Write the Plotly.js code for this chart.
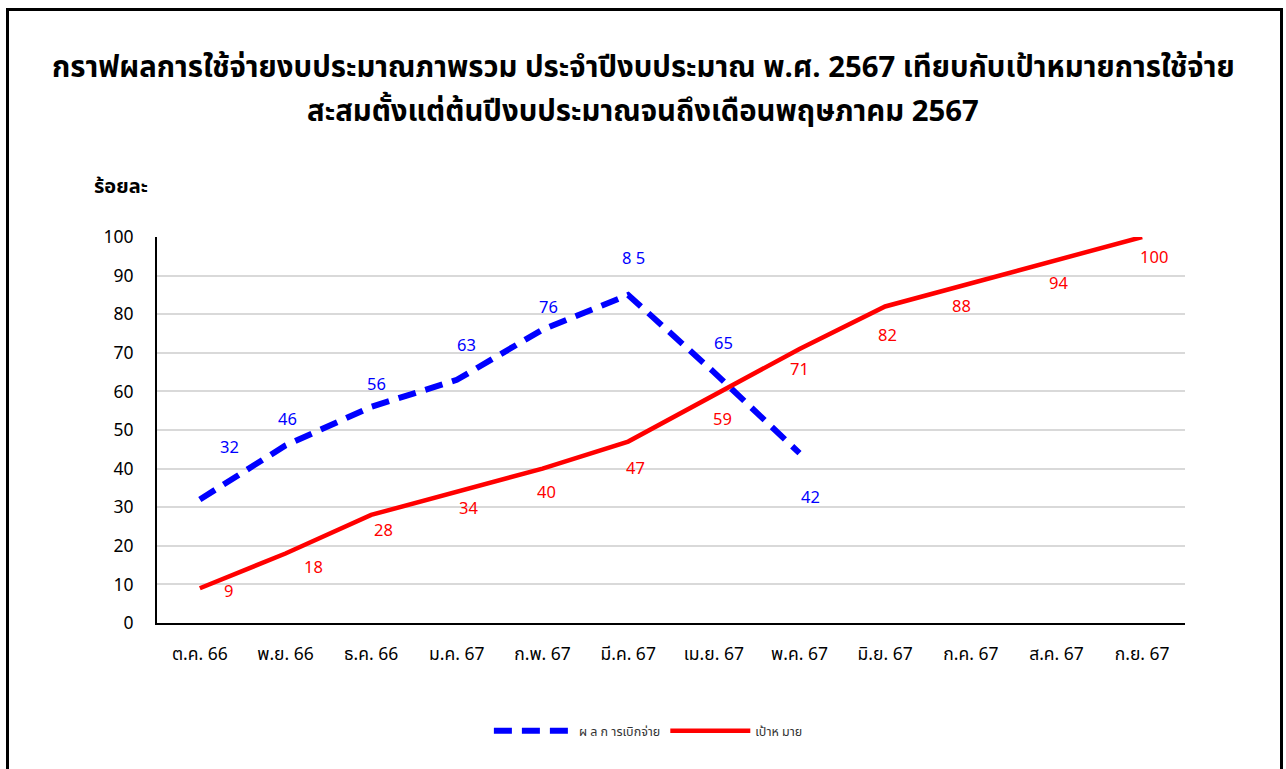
<!DOCTYPE html>
<html>
<head>
<meta charset="utf-8">
<script src="https://cdn.plot.ly/plotly-3.0.1.min.js"></script>
<style>
  html, body { margin:0; padding:0; background:#fff; }
  #wrap { position:relative; width:1286px; height:769px; overflow:hidden; }
  #chart { position:absolute; left:0; top:0; width:1286px; height:769px; }
  #frame { position:absolute; left:6px; top:8px; width:1277px; height:800px; border:3px solid #000; box-sizing:border-box; pointer-events:none; }
</style>
</head>
<body>
<div id="wrap">
  <div id="chart"></div>
  <div id="frame"></div>
</div>
<script>
const months = ["ต.ค. 66","พ.ย. 66","ธ.ค. 66","ม.ค. 67","ก.พ. 67","มี.ค. 67","เม.ย. 67","พ.ค. 67","มิ.ย. 67","ก.ค. 67","ส.ค. 67","ก.ย. 67"];
const actualValues = [32, 46, 56, 63, 76, 85, 65, 44];
const actualLabels = ["32","46","56","63","76","8 5","65","42"];
const targetValues = [9, 18, 28, 34, 40, 47, 59, 71, 82, 88, 94, 100];
const targetLabels = ["9","18","28","34","40","47","59","71","82","88","94","100"];
const seriesNames = ["ผ ล ก ารเบิกจ่าย", "เป้าห มาย"];
const yTicks = [0,10,20,30,40,50,60,70,80,90,100];
const titleLines = [
  "กราฟผลการใช้จ่ายงบประมาณภาพรวม ประจำปีงบประมาณ พ.ศ. 2567 เทียบกับเป้าหมายการใช้จ่าย",
  "สะสมตั้งแต่ต้นปีงบประมาณจนถึงเดือนพฤษภาคม 2567"
];
const yTitle = "ร้อยละ";

const FONT = "Tahoma, 'Noto Sans Thai', 'Noto Sans', 'DejaVu Sans', sans-serif";

// label offsets (style only)
const actualShift = [[30,52],[2,26],[5,22],[10,34],[6,22],[5,36],[10,29],[11,-44]];
const targetShift = [[29,-3],[28,-14],[12,-16],[12,-17],[4,-24],[7,-27],[9,-24],[0,-21],[2,-29],[-9,-23],[2,-23],[12,-20]];

const traces = [
  {
    x: months.slice(0, actualValues.length), y: actualValues, name: seriesNames[0],
    type: 'scatter', mode: 'lines',
    line: {color: '#0000ff', width: 6, dash: '18px,10px'},
    cliponaxis: false
  },
  {
    x: months, y: targetValues, name: seriesNames[1],
    type: 'scatter', mode: 'lines',
    line: {color: '#ff0000', width: 4.5},
    cliponaxis: false
  }
];

const annotations = [];
actualValues.forEach((v, i) => annotations.push({
  x: months[i], y: v, xref: 'x', yref: 'y', text: actualLabels[i], showarrow: false,
  xshift: actualShift[i][0], yshift: actualShift[i][1],
  font: {family: FONT, size: 16.5, color: '#0000ff'}
}));
targetValues.forEach((v, i) => annotations.push({
  x: months[i], y: v, xref: 'x', yref: 'y', text: targetLabels[i], showarrow: false,
  xshift: targetShift[i][0], yshift: targetShift[i][1],
  font: {family: FONT, size: 16.5, color: '#ff0000'}
}));
annotations.push({
  x: -0.035, y: 1.13, xref: 'paper', yref: 'paper', xanchor: 'center', yanchor: 'middle',
  text: '<b>' + yTitle + '</b>', showarrow: false,
  font: {family: FONT, size: 20, color: '#000'}
});
annotations.push({
  x: 0.4728, y: 1.438, xref: 'paper', yref: 'paper', xanchor: 'center', yanchor: 'middle',
  text: '<b>' + titleLines[0] + '</b>', showarrow: false,
  font: {family: FONT, size: 29.3, color: '#000'}
});
annotations.push({
  x: 0.4728, y: 1.324, xref: 'paper', yref: 'paper', xanchor: 'center', yanchor: 'middle',
  text: '<b>' + titleLines[1] + '</b>', showarrow: false,
  font: {family: FONT, size: 29.3, color: '#000'}
});

const layout = {
  width: 1286, height: 769,
  paper_bgcolor: '#fff', plot_bgcolor: '#fff',
  margin: {l: 157, r: 101, t: 237, b: 146},
  xaxis: {
    type: 'category', categoryorder: 'array', categoryarray: months,
    range: [-0.5, 11.5], showgrid: false, zeroline: false,
    showline: true, linecolor: '#000', linewidth: 2,
    ticks: '', ticklabelstandoff: 14,
    tickfont: {family: FONT, size: 17.5, color: '#000'}
  },
  yaxis: {
    range: [0, 100], tickvals: yTicks, ticktext: yTicks.map(String),
    showgrid: true, gridcolor: '#d9d9d9', gridwidth: 2,
    zeroline: false, showline: true, linecolor: '#000', linewidth: 2,
    ticks: '', ticklabelstandoff: 18,
    tickfont: {family: FONT, size: 17.5, color: '#000'}
  },
  showlegend: true,
  legend: {
    orientation: 'h', x: 0.478, y: -0.28, xanchor: 'center', yanchor: 'middle',
    font: {family: FONT, size: 12.5, color: '#333'},
    itemwidth: 80, tracegroupgap: 0
  },
  annotations: annotations
};

Plotly.newPlot('chart', traces, layout, {displayModeBar: false, staticPlot: true});
</script>
</body>
</html>
